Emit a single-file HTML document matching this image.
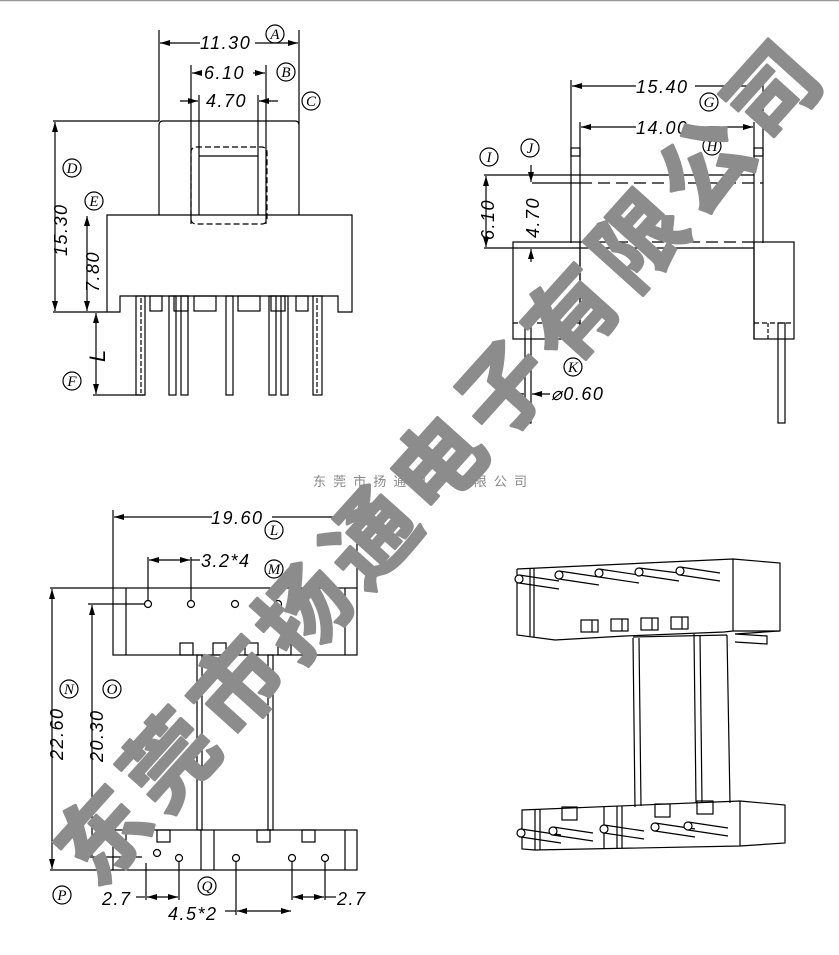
<!DOCTYPE html>
<html><head><meta charset="utf-8"><style>
html,body{margin:0;padding:0;background:#fff;}
svg{display:block;}
.d{font-family:"Liberation Sans",sans-serif;font-style:italic;font-size:18px;letter-spacing:1.5px;fill:#000;}
.c{font-family:"Liberation Serif",serif;font-style:italic;font-size:15px;fill:#000;}
</style></head><body>
<svg width="839" height="955" viewBox="0 0 839 955" xmlns="http://www.w3.org/2000/svg">
<defs>
<marker id="a" viewBox="0 0 10 6" refX="10" refY="3" markerWidth="10" markerHeight="6" orient="auto-start-reverse" markerUnits="userSpaceOnUse"><path d="M0,0 L10,3 L0,6z" fill="#000"/></marker>
</defs>
<line x1="0" y1="0.5" x2="839" y2="0.5" stroke="#999" stroke-width="1.5"/>
<g fill="none" stroke="#000" stroke-width="1.2">
<line x1="159" y1="30" x2="159" y2="121"/><line x1="299" y1="30" x2="299" y2="215"/>
<line x1="160" y1="43" x2="200" y2="43" marker-start="url(#a)"/><line x1="255" y1="43" x2="298" y2="43" marker-end="url(#a)"/>
<line x1="191" y1="65" x2="191" y2="224"/><line x1="266" y1="65" x2="266" y2="224"/>
<line x1="192" y1="73" x2="200" y2="73" marker-start="url(#a)"/><line x1="253" y1="73" x2="265" y2="73" marker-end="url(#a)"/>
<line x1="199" y1="95" x2="199" y2="215"/><line x1="258" y1="95" x2="258" y2="215"/>
<line x1="180" y1="101" x2="198" y2="101" marker-end="url(#a)"/><line x1="278" y1="101" x2="259" y2="101" marker-end="url(#a)"/>
<path d="M159,215 V125 Q159,121 163,121 H295 Q299,121 299,125"/>
<line x1="53" y1="121" x2="159" y2="121"/>
<rect x="191" y="147" width="76" height="77" rx="5" stroke-dasharray="6,3"/>
<line x1="199" y1="156" x2="258" y2="156"/>
<path d="M107,312 V215 H352 V312 H338 V296 H120 V312 Z"/>
<line x1="53" y1="312" x2="107" y2="312"/>
<line x1="55" y1="122" x2="55" y2="311" marker-start="url(#a)" marker-end="url(#a)"/>
<line x1="87" y1="216" x2="87" y2="311" marker-start="url(#a)" marker-end="url(#a)"/>
<line x1="96" y1="313" x2="96" y2="394" marker-start="url(#a)" marker-end="url(#a)"/>
<line x1="93" y1="395" x2="145" y2="395"/>
<rect x="150" y="296" width="12" height="15"/><rect x="174" y="296" width="14" height="15"/>
<rect x="194" y="296" width="22" height="15"/><rect x="238" y="296" width="22" height="15"/>
<rect x="271" y="296" width="14" height="15"/><rect x="296" y="296" width="12" height="15"/>
<rect x="136" y="296" width="9" height="99"/><line x1="141" y1="298" x2="141" y2="393" stroke-dasharray="5,2"/>
<rect x="169" y="296" width="7" height="99"/><rect x="181" y="296" width="7" height="99"/>
<rect x="226" y="296" width="7" height="99"/>
<rect x="269" y="296" width="7" height="99"/><rect x="281" y="296" width="7" height="99"/>
<rect x="313" y="296" width="9" height="99"/><line x1="317" y1="298" x2="317" y2="393" stroke-dasharray="5,2"/>
<circle cx="275" cy="34" r="9"/><circle cx="286" cy="72" r="9"/><circle cx="311" cy="101" r="9"/>
<circle cx="72" cy="168" r="9"/><circle cx="94" cy="201" r="9"/><circle cx="72" cy="381" r="9"/>

<line x1="571" y1="80" x2="571" y2="243"/><line x1="763" y1="80" x2="763" y2="243"/>
<line x1="572" y1="86" x2="636" y2="86" marker-start="url(#a)"/><line x1="695" y1="86" x2="762" y2="86" marker-end="url(#a)"/>
<line x1="580" y1="122" x2="580" y2="339"/><line x1="754" y1="122" x2="754" y2="339"/>
<line x1="581" y1="127" x2="636" y2="127" marker-start="url(#a)"/><line x1="695" y1="127" x2="753" y2="127" marker-end="url(#a)"/>
<rect x="571" y="148" width="9" height="8"/><rect x="754" y="148" width="9" height="8"/>
<line x1="484" y1="175" x2="754" y2="175"/><line x1="532" y1="183" x2="580" y2="183"/>
<line x1="580" y1="183" x2="763" y2="183" stroke-dasharray="12,6"/>
<line x1="580" y1="242" x2="754" y2="242" stroke-dasharray="12,6"/>
<line x1="484" y1="248" x2="754" y2="248"/>
<rect x="513" y="242" width="67" height="97"/><rect x="754" y="242" width="40" height="97"/>
<line x1="513" y1="323" x2="580" y2="323" stroke-dasharray="5,3"/><line x1="754" y1="323" x2="794" y2="323" stroke-dasharray="5,3"/>
<line x1="567" y1="323" x2="567" y2="339" stroke-dasharray="4,2"/>
<rect x="525" y="323" width="6" height="100"/><rect x="778" y="323" width="7" height="100"/>
<line x1="768" y1="323" x2="768" y2="339" stroke-dasharray="4,2"/>
<line x1="486" y1="176" x2="486" y2="247" marker-start="url(#a)" marker-end="url(#a)"/>
<line x1="531" y1="165" x2="531" y2="182" marker-end="url(#a)"/>
<line x1="531" y1="262" x2="531" y2="249" marker-end="url(#a)"/>
<line x1="505" y1="394" x2="524" y2="394" marker-end="url(#a)"/><line x1="550" y1="394" x2="532" y2="394" marker-end="url(#a)"/>
<circle cx="489" cy="157" r="9"/><circle cx="530" cy="148" r="9"/><circle cx="709" cy="102" r="9"/><circle cx="712" cy="146" r="9"/><circle cx="573" cy="367" r="9"/>

<line x1="113" y1="510" x2="113" y2="588"/><line x1="357" y1="510" x2="357" y2="588"/>
<line x1="114" y1="517" x2="212" y2="517" marker-start="url(#a)"/><line x1="272" y1="517" x2="356" y2="517" marker-end="url(#a)"/>
<line x1="148" y1="557" x2="148" y2="601"/><line x1="191" y1="557" x2="191" y2="601"/>
<line x1="149" y1="560" x2="190" y2="560" marker-start="url(#a)" marker-end="url(#a)"/><line x1="191" y1="560" x2="200" y2="560"/>
<rect x="113" y="588" width="244" height="67"/>
<line x1="126" y1="588" x2="126" y2="655"/><line x1="345" y1="588" x2="345" y2="655"/>
<line x1="50" y1="588" x2="113" y2="588"/>
<line x1="88" y1="604" x2="144" y2="604"/>
<circle cx="148" cy="604" r="3.5"/><circle cx="191" cy="604" r="3.5"/><circle cx="235" cy="604" r="3.5"/><circle cx="278" cy="604" r="3.5"/><circle cx="322" cy="604" r="3.5"/>
<rect x="180" y="643" width="13" height="12"/><rect x="213" y="643" width="13" height="12"/><rect x="245" y="643" width="13" height="12"/><rect x="278" y="643" width="13" height="12"/>
<rect x="197" y="655" width="5" height="175"/><rect x="268" y="655" width="5" height="175"/>
<rect x="113" y="830" width="244" height="40"/>
<line x1="126" y1="830" x2="126" y2="870"/><line x1="201" y1="830" x2="201" y2="870"/><line x1="214" y1="830" x2="214" y2="870"/><line x1="345" y1="830" x2="345" y2="870"/>
<rect x="157" y="830" width="13" height="12"/><rect x="257" y="830" width="13" height="12"/><rect x="302" y="830" width="13" height="12"/>
<circle cx="157" cy="853" r="3.5"/><circle cx="179" cy="858" r="3.5"/><circle cx="236" cy="858" r="3.5"/><circle cx="292" cy="858" r="3.5"/><circle cx="325" cy="858" r="3.5"/>
<line x1="50" y1="870" x2="113" y2="870"/>
<line x1="88" y1="857" x2="142" y2="857"/>
<line x1="52" y1="589" x2="52" y2="869" marker-start="url(#a)" marker-end="url(#a)"/>
<line x1="92" y1="605" x2="92" y2="856" marker-start="url(#a)" marker-end="url(#a)"/>
<line x1="146" y1="863" x2="146" y2="900"/><line x1="179" y1="862" x2="179" y2="900"/>
<line x1="236" y1="862" x2="236" y2="915"/><line x1="292" y1="862" x2="292" y2="900"/><line x1="325" y1="862" x2="325" y2="900"/>
<line x1="136" y1="897" x2="145" y2="897"/><line x1="147" y1="897" x2="178" y2="897" marker-start="url(#a)" marker-end="url(#a)"/>
<line x1="237" y1="911" x2="291" y2="911" marker-start="url(#a)" marker-end="url(#a)"/><line x1="225" y1="911" x2="236" y2="911"/>
<line x1="293" y1="897" x2="324" y2="897" marker-start="url(#a)" marker-end="url(#a)"/><line x1="325" y1="897" x2="336" y2="897"/>
<circle cx="274" cy="530" r="9"/><circle cx="274" cy="569" r="9"/><circle cx="69" cy="689" r="9"/><circle cx="112" cy="689" r="9"/><circle cx="62" cy="895" r="9"/><circle cx="207" cy="886" r="9"/>

<path d="M517,569 L733,559 L780,563 L780,631 L735,634 L767,636 L767,644 L735,642 M733,559 V631 M517,569 V635 L555,640 L625,636 L724,632 L733,631"/>
<line x1="530" y1="568" x2="530" y2="636"/><line x1="534" y1="568" x2="534" y2="637"/>
<line x1="733" y1="631" x2="780" y2="631"/>
<path d="M519,575 l40,6 M519,583 l40,6 M559,571 l40,6 M559,579 l40,6 M599,569 l40,6 M599,577 l40,6 M639,568 l40,5 M639,575 l40,6 M680,567 l40,6 M680,575 l40,6"/>
<circle cx="519" cy="579" r="4" fill="#fff"/><circle cx="559" cy="575" r="4" fill="#fff"/><circle cx="599" cy="573" r="4" fill="#fff"/><circle cx="639" cy="572" r="4" fill="#fff"/><circle cx="680" cy="571" r="4" fill="#fff"/>
<rect x="581" y="620" width="17" height="12"/><rect x="611" y="619" width="17" height="12"/><rect x="641" y="618" width="17" height="12"/><rect x="671" y="617" width="17" height="12"/>
<line x1="592" y1="620" x2="592" y2="632"/><line x1="622" y1="619" x2="622" y2="631"/><line x1="652" y1="618" x2="652" y2="630"/><line x1="682" y1="617" x2="682" y2="629"/>
<line x1="633" y1="638" x2="635" y2="807"/><line x1="639" y1="638" x2="641" y2="806"/>
<line x1="694" y1="634" x2="696" y2="803"/><line x1="700" y1="635" x2="702" y2="803"/><line x1="727" y1="635" x2="730" y2="803"/>
<line x1="633" y1="637" x2="727" y2="635"/>
<path d="M522,810 L740,801 L785,805 L785,843 L740,846 L535,850 L522,849 Z M740,801 V846"/>
<line x1="535" y1="809" x2="535" y2="850"/><line x1="540" y1="809" x2="540" y2="850"/>
<line x1="604" y1="807" x2="604" y2="848"/><line x1="617" y1="806" x2="617" y2="848"/><line x1="622" y1="806" x2="622" y2="848"/>
<rect x="562" y="807" width="15" height="13"/><rect x="655" y="804" width="15" height="13"/><rect x="697" y="801" width="16" height="13"/>
<path d="M521,829 l40,6 M521,837 l40,6 M553,827 l40,6 M553,835 l40,6 M604,825 l40,6 M604,833 l40,6 M655,823 l40,6 M655,831 l40,6 M688,822 l40,6 M688,830 l40,6"/>
<circle cx="521" cy="833" r="4" fill="#fff"/><circle cx="553" cy="831" r="4" fill="#fff"/><circle cx="604" cy="829" r="4" fill="#fff"/><circle cx="655" cy="827" r="4" fill="#fff"/><circle cx="688" cy="826" r="4" fill="#fff"/>
</g>

<g class="d">
<text x="200" y="49">11.30</text><text x="204" y="79">6.10</text><text x="206" y="107">4.70</text>
<text transform="translate(67,256) rotate(-90)">15.30</text>
<text transform="translate(99,292) rotate(-90)">7.80</text>
<text transform="translate(105,362) rotate(-90)" style="font-size:22px">L</text>
<text x="636" y="93">15.40</text><text x="636" y="134">14.00</text>
<text transform="translate(494,240) rotate(-90)">6.10</text>
<text transform="translate(539,238) rotate(-90)">4.70</text>
<text x="551" y="400">⌀0.60</text>
<text x="211" y="524">19.60</text><text x="201" y="567">3.2*4</text>
<text transform="translate(63,760) rotate(-90)">22.60</text>
<text transform="translate(103,762) rotate(-90)">20.30</text>
<text x="102" y="905">2.7</text><text x="168" y="920">4.5*2</text><text x="337" y="905">2.7</text>
</g>
<g class="c" text-anchor="middle">
<text x="275" y="39">A</text><text x="286" y="77">B</text><text x="311" y="106">C</text>
<text x="72" y="173">D</text><text x="94" y="206">E</text><text x="72" y="386">F</text>
<text x="709" y="107">G</text><text x="712" y="151">H</text><text x="489" y="162">I</text><text x="530" y="153">J</text><text x="573" y="372">K</text>
<text x="274" y="535">L</text><text x="274" y="574">M</text><text x="69" y="694">N</text><text x="112" y="694">O</text><text x="62" y="900">P</text><text x="207" y="891">Q</text>
</g>
<text x="313" y="486" textLength="214" style="font-family:'Liberation Sans','Noto Sans CJK SC',sans-serif;font-size:13px;fill:#888">东莞市扬通电子有限公司</text>
<text transform="translate(75,870) rotate(-48)" dominant-baseline="central" textLength="1090" lengthAdjust="spacing" style="font-family:'Liberation Sans','Noto Sans CJK SC',sans-serif;font-weight:bold;font-size:90px;fill:#8c8c8c;stroke:#8c8c8c;stroke-width:3;stroke-linejoin:round">东莞市扬通电子有限公司</text>
</svg>
</body></html>
